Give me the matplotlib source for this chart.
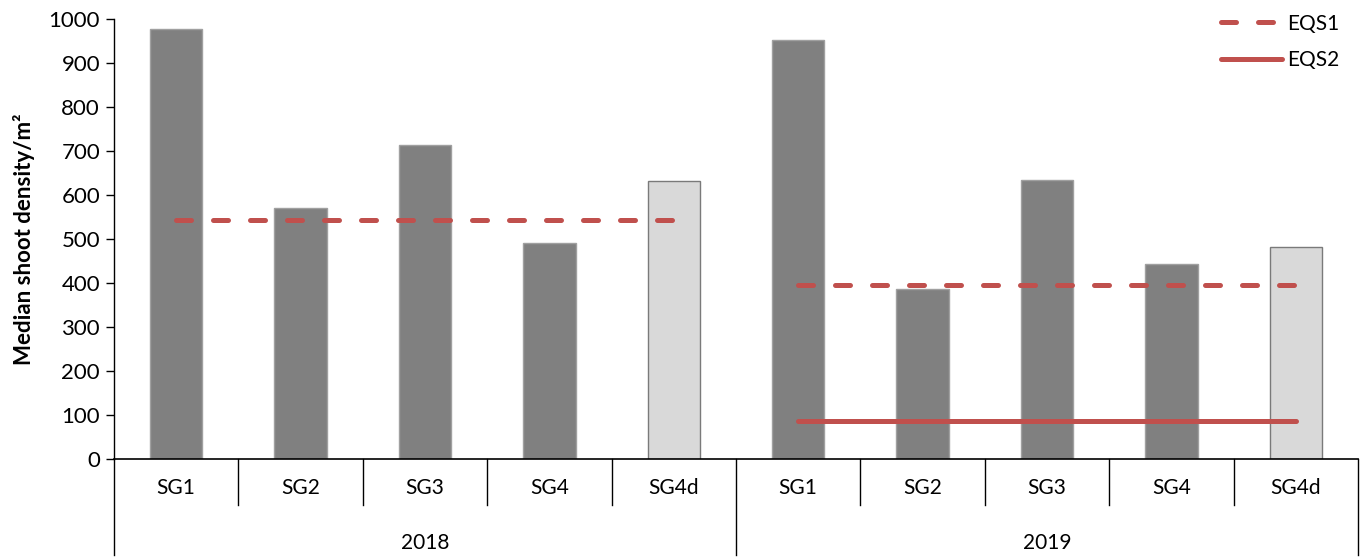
import matplotlib.pyplot as plt
import matplotlib.transforms as mtransforms
from matplotlib.lines import Line2D

plt.rcParams['font.family'] = ['Lato', 'DejaVu Sans']

years = ['2018', '2019']
sites = ['SG1', 'SG2', 'SG3', 'SG4', 'SG4d']
density_2018 = [977, 570, 713, 491, 632]
density_2019 = [952, 386, 634, 443, 482]
eqs1 = [543, 395]
eqs2_2019 = 86

values = density_2018 + density_2019
labels = sites + sites
n = len(values)
x = list(range(n))

dark = '#808080'
light = '#d9d9d9'
red = '#c0504d'

fig = plt.figure(figsize=(13.62, 5.59), dpi=100)
ax = fig.add_axes([114 / 1362, 100 / 559, 1244 / 1362, 440 / 559])

colors = [light if s == 'SG4d' else dark for s in labels]
edges = ['#7a7a7a' if s == 'SG4d' else '#a0a0a0' for s in labels]
ax.bar(x, values, width=0.42, color=colors, edgecolor=edges, linewidth=1.0, zorder=2)

# threshold lines across each year group
k = len(sites)
ax.plot([0, k - 1], [eqs1[0]] * 2, color=red, lw=3.6, dashes=(3, 4.4),
        dash_capstyle='round', solid_capstyle='round', zorder=3)
ax.plot([k, 2 * k - 1], [eqs1[1]] * 2, color=red, lw=3.6, dashes=(3, 4.4),
        dash_capstyle='round', solid_capstyle='round', zorder=3)
ax.plot([k, 2 * k - 1], [eqs2_2019] * 2, color=red, lw=3.6,
        solid_capstyle='round', zorder=3)

ax.set_xlim(-0.5, n - 0.5)
ax.set_ylim(0, 1000)
ax.set_yticks(range(0, 1001, 100))
ax.tick_params(axis='y', labelsize=16, length=6, width=1, direction='out', pad=4)
ax.set_xticks([])
for side in ['top', 'right']:
    ax.spines[side].set_visible(False)
ax.spines['left'].set_linewidth(1)
ax.spines['bottom'].set_linewidth(1.2)
ax.set_ylabel('Median shoot density/m²', fontsize=16, fontweight='bold', labelpad=10)

# two-level category axis
trans = mtransforms.blended_transform_factory(ax.transData, ax.transAxes)
row1 = -46 / 440
row2 = -96 / 440
for i in range(n + 1):
    xb = i - 0.5
    bottom = row2 if i % k == 0 else row1
    ax.plot([xb, xb], [0, bottom], transform=trans, color='black', lw=1, clip_on=False)
for i, lab in enumerate(labels):
    ax.text(i, -29 / 440, lab, transform=trans, ha='center', va='center', fontsize=15)
for j, yr in enumerate(years):
    ax.text(j * k + (k - 1) / 2, -84 / 440, yr, transform=trans, ha='center', va='center', fontsize=15)

handles = [
    Line2D([], [], color=red, lw=3.6, dashes=(3, 4.4), dash_capstyle='round'),
    Line2D([], [], color=red, lw=3.6, solid_capstyle='round'),
]
ax.legend(handles, ['EQS1', 'EQS2'], loc='upper right', bbox_to_anchor=(1.0, 1.055),
          frameon=False, fontsize=15, handlelength=2.9, handletextpad=0.25, labelspacing=0.8)

fig.savefig('out.png', dpi=100)
